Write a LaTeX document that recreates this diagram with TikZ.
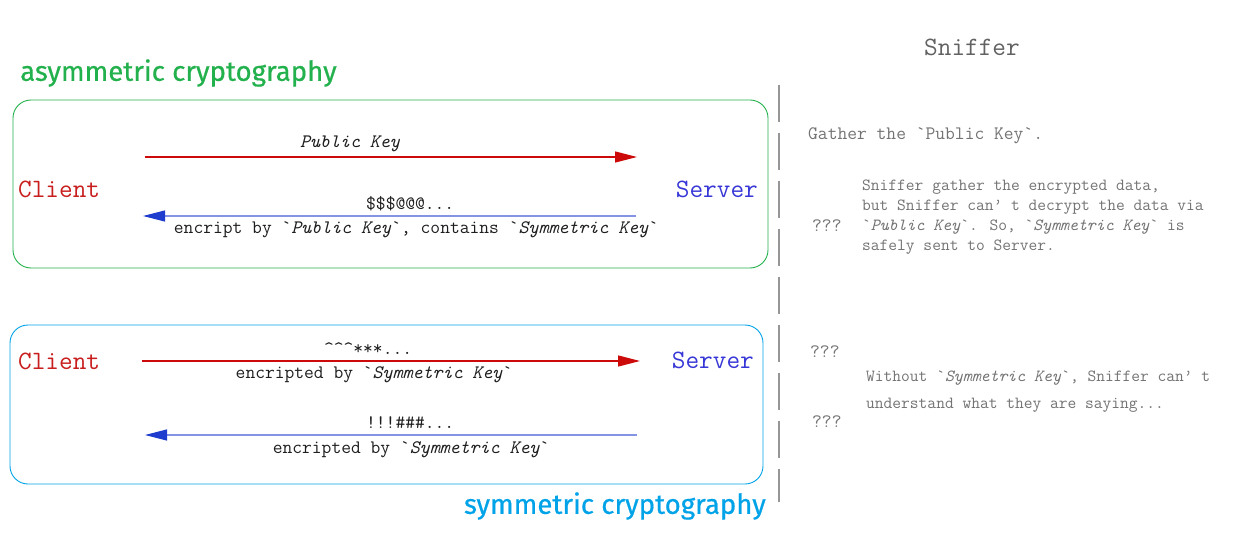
\documentclass[tikz,border=0pt]{standalone}
\usepackage{fontspec}
\newfontfamily\comicfont[FakeBold=0.6]{Fira Sans}
\usetikzlibrary{arrows.meta}

\begin{document}
\begin{tikzpicture}[x=1pt,y=1pt,line width=0.4pt,
  peer/.style={anchor=west,inner sep=0pt,font=\fbig},
  msglabel/.style={inner sep=0pt,font=\fmsg,text=msgblack},
  note/.style={anchor=west,inner sep=0pt,text=notegrey},
  reqarrow/.style={draw=reqred,line width=1.3pt,-{Triangle[length=22pt,width=11pt]}},
  resparrow/.style={draw=respblue!55,line width=1.1pt,-{Triangle[length=22pt,width=11pt,color=respblue]}},
  cryptobox/.style={rounded corners=18pt,line width=0.9pt}]
\definecolor{asymgreen}{RGB}{34,177,76}
\definecolor{symcyan}{RGB}{0,162,232}
\definecolor{reqred}{RGB}{204,10,10}
\definecolor{respblue}{RGB}{30,60,205}
\definecolor{clientred}{RGB}{200,30,30}
\definecolor{serverblue}{RGB}{55,55,215}
\definecolor{msgblack}{RGB}{30,30,30}
\definecolor{notegrey}{RGB}{115,115,115}
\definecolor{dividergrey}{RGB}{150,150,150}
\providecommand{\fbig}{\fontsize{26.5}{28}\selectfont\ttfamily}
\providecommand{\fmsg}{\fontsize{19}{20}\selectfont\ttfamily}
\providecommand{\fnote}{\fontsize{17}{20}\selectfont\ttfamily}
\providecommand{\fnotewide}{\fontsize{17}{27}\selectfont\ttfamily}
\providecommand{\ftitle}{\fontsize{27.6}{30}\selectfont\comicfont}
\providecommand{\bq}{\textasciigrave}
\useasboundingbox (0,0) rectangle (1244,547);
% asymmetric part
\node[anchor=west,inner sep=0pt,font=\ftitle,text=asymgreen] (asymTitle) at (20,474) {asymmetric cryptography};
\draw[cryptobox,asymgreen] (13,447) rectangle (768,279);
\node[peer,text=clientred] (clientA) at (18,358) {Client};
\node[peer,anchor=east,text=serverblue] (serverA) at (758,358) {Server};
\coordinate (pubKeyS) at (145,390);
\coordinate (pubKeyE) at (637,390);
\draw[reqarrow] (pubKeyS) -- node[msglabel,pos=0.417,yshift=13pt] (pubKeyLbl) {\textit{Public Key}} (pubKeyE);
\coordinate (encKeyS) at (636,331);
\coordinate (encKeyE) at (143,331);
\draw[resparrow] (encKeyS) -- node[msglabel,pos=0.458,yshift=12pt] (encKeyTop) {\$\$\$@@@...}
  node[msglabel,pos=0.446,yshift=-14pt] (encKeyBot) {encript by \bq\textit{Public Key}\bq, contains \bq\textit{Symmetric Key}\bq} (encKeyE);
% symmetric part
\draw[cryptobox,symcyan] (10,222) rectangle (763,63);
\node[anchor=east,inner sep=0pt,font=\ftitle,text=symcyan] (symTitle) at (766,41) {symmetric cryptography};
\node[peer,text=clientred] (clientB) at (18,186) {Client};
\node[peer,anchor=east,text=serverblue] (serverB) at (754,187) {Server};
\coordinate (sendS) at (142,186);
\coordinate (sendE) at (640,186);
\draw[reqarrow] (sendS) -- node[msglabel,pos=0.454,yshift=12pt] (sendTop) {\textasciicircum\textasciicircum\textasciicircum***...}
  node[msglabel,pos=0.466,yshift=-14pt] (sendBot) {encripted by \bq\textit{Symmetric Key}\bq} (sendE);
\coordinate (replyS) at (637,112);
\coordinate (replyE) at (145,112);
\draw[resparrow] (replyS) -- node[msglabel,pos=0.461,yshift=12pt] (replyTop) {!!!\#\#\#...}
  node[msglabel,pos=0.459,yshift=-15pt] (replyBot) {encripted by \bq\textit{Symmetric Key}\bq} (replyE);
% sniffer column
\coordinate (dividerTop) at (779,462);
\coordinate (dividerBot) at (779,45);
\draw[dividergrey,line width=2.4pt,dash pattern=on 37pt off 11pt] (dividerTop) -- (dividerBot);
\node[inner sep=0pt,font=\fbig,text=notegrey!85!black] (snifTitle) at (972,500) {Sniffer};
\node[note,font=\fmsg] (gatherPk) at (808,411) {Gather the \bq Public Key\bq.};
\node[note,font=\fmsg] (askA) at (812,321) {???};
\node[note,font=\fnote,align=left] (noteA) at (862,330) {Sniffer gather the encrypted data,\\but Sniffer can’ t decrypt the data via\\\bq\textit{Public Key}\bq. So, \bq\textit{Symmetric Key}\bq\ is\\safely sent to Server.};
\node[note,font=\fmsg] (askB) at (810,195) {???};
\node[note,font=\fmsg] (askC) at (812,125) {???};
\node[note,font=\fnotewide,align=left] (noteB) at (866,155.5) {Without \bq\textit{Symmetric Key}\bq, Sniffer can’ t\\understand what they are saying...};
\end{tikzpicture}
\end{document}
